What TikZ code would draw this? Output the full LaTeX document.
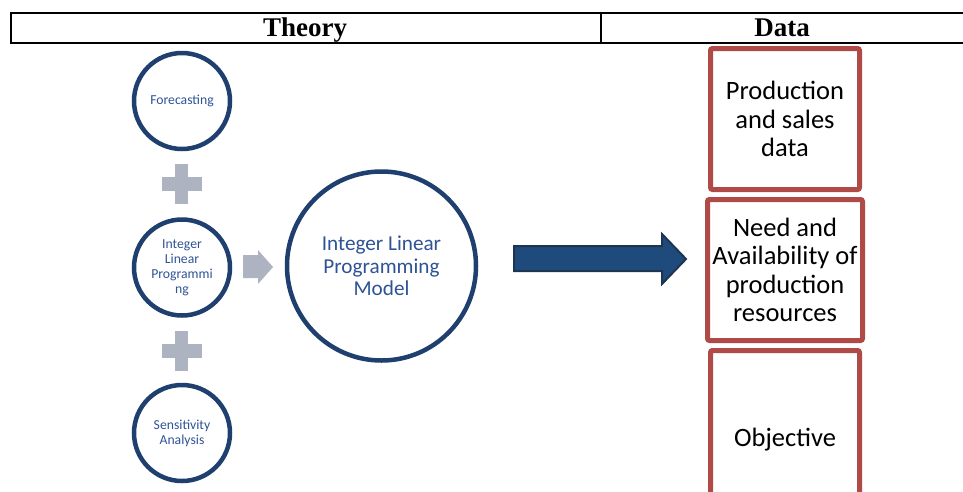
\documentclass[tikz,border=0pt]{standalone}
\usepackage{fontspec}
\setmainfont{Liberation Serif}
\newfontfamily\carlitofont{Carlito}
\definecolor{cblue}{HTML}{1F3F6F}
\definecolor{tblue}{HTML}{2E5395}
\definecolor{pgray}{HTML}{ADB3C1}
\definecolor{afill}{HTML}{1F4B7C}
\definecolor{aline}{HTML}{1E3552}
\definecolor{bred}{HTML}{B04A47}
\begin{document}
\begin{tikzpicture}[x=1pt,y=-1pt,
  smallc/.style={circle,draw=cblue,line width=4.5pt,minimum size=96pt,inner sep=0pt,
    align=center,text=tblue,font=\carlitofont\fontsize{13.7}{15}\selectfont},
  bigc/.style={circle,draw=cblue,line width=4.5pt,minimum size=189pt,inner sep=0pt,
    align=center,text=tblue,font=\carlitofont\fontsize{21.2}{22.5}\selectfont},
  databox/.style={draw=bred,line width=5pt,rounded corners=2pt,inner sep=0pt,
    align=center,text=black,font=\carlitofont\fontsize{26.5}{28.5}\selectfont},
  head/.style={font=\bfseries\fontsize{27}{28}\selectfont,inner sep=0pt,anchor=base},
  plusc/.style={fill=pgray}]
\useasboundingbox (0,0) rectangle (963,491);
\clip (0,0) rectangle (963,491);
% header
\draw[line width=2.3pt] (10.7,12.7) -- (970,12.7);
\draw[line width=2.3pt] (10.7,42.8) -- (970,42.8);
\draw[line width=2.3pt] (10.7,11.6) -- (10.7,43.9);
\draw[line width=1.2pt] (601,12.7) -- (601,42.8);
\node[head] (theory) at (305,36) {Theory};
\node[head] (data) at (782,36) {Data};
% small circles
\node[smallc] (fc) at (182,101) {Forecasting};
\node[smallc] (ilp) at (182,267.5) {Integer\\Linear\\Programmi\\ng};
\node[smallc] (sa) at (182,433) {Sensitivity\\Analysis};
% plus signs
\foreach \cy in {184,350.5}{
  \fill[plusc] (161.5,\cy-7) rectangle (201.5,\cy+7);
  \fill[plusc] (175,\cy-20) rectangle (188,\cy+20);
}
% small gray arrow
\fill[pgray] (243,255) -- (258,255) -- (258,250) -- (273,267) -- (258,284) -- (258,278) -- (243,278) -- cycle;
% big circle
\node[bigc] (model) at (381.5,266) {Integer Linear\\Programming\\Model};
% big arrow
\draw[fill=afill,draw=aline,line width=2pt,line join=miter]
  (514,246) -- (662,246) -- (662,234) -- (686,259) -- (662,284) -- (662,271) -- (514,271) -- cycle;
% data boxes
\node[databox,minimum width=149pt,minimum height=141pt] (b1) at (785,119) {Production\\and sales\\data};
\node[databox,minimum width=155pt,minimum height=141pt] (b2) at (785,270) {Need and\\Availability of\\production\\resources};
\node[databox,minimum width=149pt,minimum height=179pt] (b3) at (785,440) {Objective};
\end{tikzpicture}
\end{document}
